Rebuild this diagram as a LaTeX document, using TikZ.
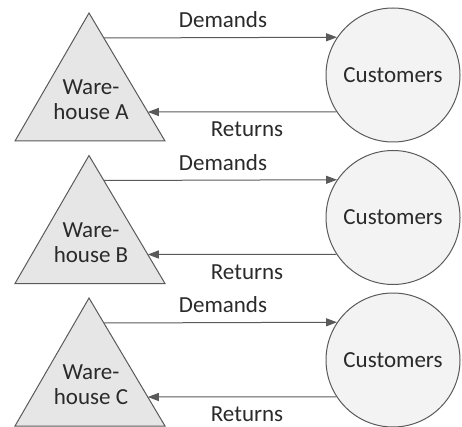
\documentclass[tikz,border=0pt]{standalone}
\usepackage{fontspec}
\setmainfont{Carlito}
\usetikzlibrary{arrows.meta}
\definecolor{edge}{HTML}{5A5A5A}
\definecolor{whfill}{HTML}{E6E6E6}
\definecolor{cufill}{HTML}{F3F3F3}
\definecolor{ink}{HTML}{2A2A2A}
\tikzset{
  every node/.style={font=\fontsize{23}{25}\selectfont, text=ink},
  whouse/.style={draw=edge, fill=whfill, line width=1pt, line join=miter},
  cust/.style={circle, draw=edge, fill=cufill, line width=1pt, minimum size=134pt, inner sep=0pt},
  flow/.style={draw=edge, line width=1pt, -{Triangle[length=11pt,width=8pt]}},
  lbl/.style={inner sep=1pt},
}
\begin{document}
\begin{tikzpicture}[x=1pt,y=-1pt]
\useasboundingbox (0,0) rectangle (462,427);
\foreach \name/\off in {A/0, B/142.5, C/285}{
  \begin{scope}[yshift=-\off pt]
    % warehouse triangle
    \draw[whouse] (89,13) coordinate (apex\name) -- (165,141) -- (15,141) -- cycle;
    \node[align=center] (wh\name) at (91,100) {Ware-\\house \name};
    \coordinate (out\name) at (103.8,38);
    \coordinate (in\name) at (147.8,112);
    % customer circle
    \node[cust] (cu\name) at (393,75) {Customers};
    % flows
    \draw[flow] (out\name) -- (cu\name.146.5);
    \draw[flow] (cu\name.213.5) -- (in\name);
    \node[lbl] (dem\name) at (223,20) {Demands};
    \node[lbl] (ret\name) at (247,129.5) {Returns};
  \end{scope}
}
\end{tikzpicture}
\end{document}
